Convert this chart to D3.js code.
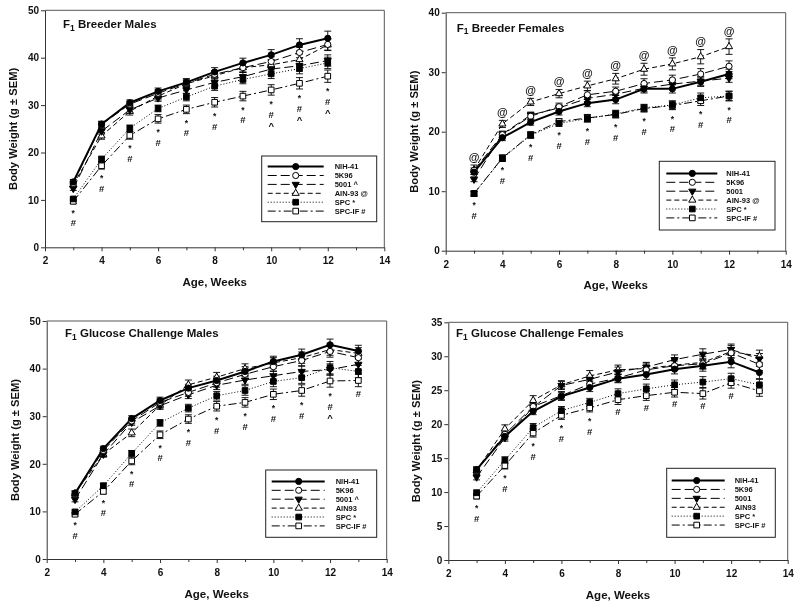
<!DOCTYPE html>
<html><head><meta charset="utf-8">
<script src="https://cdn.jsdelivr.net/npm/d3@7"></script>
<style>
body{margin:0;background:#fff}
svg{display:block;font-family:"Liberation Sans",Arial,Helvetica,sans-serif;filter:grayscale(1)}
</style>
</head><body><svg id="c" width="800" height="608"></svg>
<script>
// ---------------- DATA ----------------
const weeksBreeder = [3,4,5,6,7,8,9,10,11,12];
const weeksGlucose = [3,4,5,6,7,8,9,10,11,12,13];
const xTicks = [2,4,6,8,10,12,14];
const xMinorTicks = [3,5,7,9,11,13];

const panelTitles = ["Breeder Males","Breeder Females","Glucose Challenge Males","Glucose Challenge Females"];
const yMaxes = [50,40,50,35];
const ySteps = [10,10,10,5];

const legendBM = ["NIH-41","5K96","5001 ^","AIN-93 @","SPC *","SPC-IF #"];
const legendBF = ["NIH-41","5K96","5001","AIN-93 @","SPC *","SPC-IF #"];
const legendGM = ["NIH-41","5K96","5001 ^","AIN93","SPC *","SPC-IF #"];
const legendGF = ["NIH-41","5K96","5001","AIN93","SPC *","SPC-IF #"];

// F1 Breeder Males
const bmNIH   = [13.8,26.0,30.5,32.9,34.8,37.0,38.9,40.6,42.7,44.1];
const bm5K96  = [13.5,25.9,30.2,32.5,34.6,36.5,37.9,39.2,41.1,42.8];
const bm5001  = [12.4,24.5,29.0,31.5,33.2,34.8,36.0,37.6,38.3,39.4];
const bmAIN   = [13.2,23.5,28.7,31.9,34.5,36.2,37.9,38.5,39.6,42.7];
const bmSPC   = [10.2,18.6,25.1,29.3,31.7,34.0,35.4,36.6,37.7,38.9];
const bmSPCIF = [9.7,17.2,23.6,27.1,29.1,30.6,31.9,33.2,34.6,36.1];
const bmNIHsem   = [0.5,0.6,0.6,0.7,0.8,0.9,1.0,1.1,1.3,1.5];
const bm5K96sem  = [0.4,0.6,0.6,0.7,0.7,0.8,0.9,1.0,1.1,1.2];
const bm5001sem  = [0.4,0.6,0.7,0.7,0.8,0.9,0.9,1.0,1.1,1.2];
const bmAINsem   = [0.5,0.7,0.8,0.8,0.8,0.9,1.0,1.1,1.2,1.2];
const bmSPCsem   = [0.4,0.6,0.7,0.7,0.8,0.9,0.9,1.0,1.1,1.2];
const bmSPCIFsem = [0.5,0.7,0.8,0.9,0.9,1.0,1.0,1.1,1.2,1.3];
const bmBelow = ["*#","*#","*#","*#","*#","*#","*#","*#^","*#^","*#^"];
const bmAbove = ["","","","","","","","","",""];

// F1 Breeder Females
const bfNIH   = [13.2,19.0,21.6,23.4,24.8,25.4,27.2,27.2,28.4,29.7];
const bf5K96  = [13.5,19.5,22.6,24.2,26.2,26.8,28.1,28.7,29.7,31.0];
const bf5001  = [12.0,19.6,22.8,24.0,25.6,26.3,27.3,28.0,28.5,29.0];
const bfAIN   = [13.6,21.3,25.0,26.4,27.7,28.9,30.5,31.4,32.6,34.3];
const bfSPC   = [9.6,15.5,19.4,21.4,22.2,23.0,24.0,24.5,25.7,26.0];
const bfSPCIF = [9.6,15.6,19.5,21.7,22.3,22.9,23.9,24.4,25.2,26.0];
const bfNIHsem   = [0.4,0.5,0.5,0.6,0.6,0.7,0.7,0.7,0.8,0.8];
const bf5K96sem  = [0.4,0.5,0.6,0.6,0.7,0.7,0.8,0.8,0.9,0.9];
const bf5001sem  = [0.4,0.5,0.5,0.5,0.6,0.6,0.6,0.7,0.7,0.7];
const bfAINsem   = [0.8,0.6,0.6,0.7,0.8,0.9,1.0,1.0,1.2,1.3];
const bfSPCsem   = [0.4,0.5,0.5,0.5,0.6,0.6,0.6,0.7,0.8,0.8];
const bfSPCIFsem = [0.4,0.5,0.5,0.5,0.6,0.6,0.6,0.7,0.8,0.8];
const bfBelow = ["*#","*#","*#","*#","*#","*#","*#","*#","*#","*#"];
const bfAbove = ["@","@","@","@","@","@","@","@","@","@"];

// F1 Glucose Challenge Males
const gmNIH   = [13.8,23.2,29.5,33.3,35.9,37.5,39.4,41.5,42.9,45.0,43.7];
const gm5K96  = [13.6,22.8,29.0,32.9,35.0,37.0,38.8,40.4,41.7,43.6,42.3];
const gm5001  = [12.5,22.0,28.7,32.2,34.5,36.5,37.6,38.5,39.4,39.8,40.9];
const gmAIN   = [13.8,22.0,26.5,32.3,36.6,38.2,40.0,41.2,42.3,44.0,43.2];
const gmSPC   = [9.9,15.4,22.2,28.6,31.7,34.3,35.4,37.3,38.1,40.2,39.4];
const gmSPCIF = [9.4,14.2,20.6,26.1,29.4,32.1,32.9,34.6,35.4,37.4,37.5];
const gmNIHsem   = [0.5,0.5,0.6,0.7,0.8,0.9,1.0,1.1,1.2,1.2,1.2];
const gm5K96sem  = [0.5,0.5,0.6,0.7,0.8,0.9,0.9,1.0,1.1,1.2,1.2];
const gm5001sem  = [0.5,0.5,0.6,0.7,0.8,0.9,0.9,1.0,1.1,1.2,1.3];
const gmAINsem   = [0.5,0.6,0.8,0.8,1.0,1.0,1.0,1.1,1.2,1.2,1.2];
const gmSPCsem   = [0.4,0.5,0.6,0.7,0.8,0.9,1.0,1.1,1.2,1.3,1.3];
const gmSPCIFsem = [0.4,0.5,0.8,0.8,0.9,1.0,1.0,1.1,1.2,1.3,1.3];
const gmBelow = ["*#","*#","*#","*#","*#","*#","*#","*#","*#","*#^","#"];
const gmAbove = ["","","","","","","","","","",""];

// F1 Glucose Challenge Females
const gfNIH   = [13.3,18.2,21.9,24.1,25.4,26.7,27.3,28.1,28.6,29.2,27.6];
const gf5K96  = [13.2,18.5,22.6,24.2,25.9,26.8,28.0,28.6,28.9,30.5,28.8];
const gf5001  = [12.2,18.0,22.5,25.7,26.6,27.7,28.4,29.5,30.3,31.0,29.6];
const gfAIN   = [13.2,19.3,23.5,25.8,27.1,28.0,28.2,28.7,29.1,30.7,30.0];
const gfSPC   = [9.9,14.7,19.5,22.0,23.2,24.5,25.2,25.8,26.2,26.7,25.8];
const gfSPCIF = [9.4,13.9,18.7,21.3,22.4,23.6,24.2,24.7,24.5,26.1,24.9];
const gfNIHsem   = [0.4,0.5,0.5,0.6,0.6,0.6,0.7,0.7,0.8,0.9,0.9];
const gf5K96sem  = [0.4,0.5,0.5,0.6,0.6,0.6,0.7,0.7,0.8,0.8,0.9];
const gf5001sem  = [0.4,0.5,0.5,0.6,0.6,0.7,0.7,0.7,0.8,0.8,0.8];
const gfAINsem   = [0.5,0.6,0.7,0.6,0.8,0.7,0.8,0.8,0.9,0.9,0.9];
const gfSPCsem   = [0.4,0.5,0.6,0.6,0.6,0.7,0.7,0.7,0.8,0.8,0.8];
const gfSPCIFsem = [0.4,0.5,0.6,0.6,0.6,0.7,0.7,0.7,0.8,0.8,0.8];
const gfBelow = ["*#","*#","*#","*#","*#","#","#","#","#","#",""];
const gfAbove = ["","","","","","","","","","",""];

// ---------------- ASSEMBLY ----------------
const panels = [
  {title:panelTitles[0], ymax:yMaxes[0], ystep:ySteps[0], weeks:weeksBreeder, legend:legendBM,
   vals:[bmNIH,bm5K96,bm5001,bmAIN,bmSPC,bmSPCIF], sems:[bmNIHsem,bm5K96sem,bm5001sem,bmAINsem,bmSPCsem,bmSPCIFsem],
   below:bmBelow, above:bmAbove},
  {title:panelTitles[1], ymax:yMaxes[1], ystep:ySteps[1], weeks:weeksBreeder, legend:legendBF,
   vals:[bfNIH,bf5K96,bf5001,bfAIN,bfSPC,bfSPCIF], sems:[bfNIHsem,bf5K96sem,bf5001sem,bfAINsem,bfSPCsem,bfSPCIFsem],
   below:bfBelow, above:bfAbove},
  {title:panelTitles[2], ymax:yMaxes[2], ystep:ySteps[2], weeks:weeksGlucose, legend:legendGM,
   vals:[gmNIH,gm5K96,gm5001,gmAIN,gmSPC,gmSPCIF], sems:[gmNIHsem,gm5K96sem,gm5001sem,gmAINsem,gmSPCsem,gmSPCIFsem],
   below:gmBelow, above:gmAbove},
  {title:panelTitles[3], ymax:yMaxes[3], ystep:ySteps[3], weeks:weeksGlucose, legend:legendGF,
   vals:[gfNIH,gf5K96,gf5001,gfAIN,gfSPC,gfSPCIF], sems:[gfNIHsem,gf5K96sem,gf5001sem,gfAINsem,gfSPCsem,gfSPCIFsem],
   below:gfBelow, above:gfAbove}
];

// layout (pixels)
const layouts = [
  {x0:45,   x1:384.3, y0:10.3,  y1:247.3, tx:63,    ty:28.3,  lg:[261.7,156,376.7,221.7], lo:[6,62,34,73]},
  {x0:445.7,x1:785.7, y0:12.7,  y1:250.7, tx:456.7, ty:31.7,  lg:[659.3,161.3,775,230],   lo:[7,58,33,67]},
  {x0:46.7, x1:386.7, y0:321,   y1:559,   tx:65,    ty:337.3, lg:[265.7,470,376.7,537.3], lo:[6,59,33,70]},
  {x0:448.3,x1:787.7, y0:322.3, y1:560,   tx:456,   ty:337.3, lg:[666.7,468.3,775.3,537.3], lo:[5,58,30,68]}
];

// series styles
const styles = [
  {dash:null,      width:2.0, sym:d3.symbolCircle,   size:30, fill:"#000", rot:0},
  {dash:"9,4",     width:1.0, sym:d3.symbolCircle,   size:30, fill:"#fff", rot:0},
  {dash:"9,4",     width:1.0, sym:d3.symbolTriangle, size:22, fill:"#000", rot:180},
  {dash:"5,3",     width:1.0, sym:d3.symbolTriangle, size:22, fill:"#fff", rot:0},
  {dash:"1,2",     width:1.0, sym:d3.symbolSquare,   size:32, fill:"#000", rot:0},
  {dash:"8,3,2,3", width:1.0, sym:d3.symbolSquare,   size:32, fill:"#fff", rot:0}
];
// annotation glyph metrics: font size, glyph-centre height above baseline (em)
const glyphSize  = {"*":8.5, "#":9.5, "^":9.5, "@":11};
const glyphMid   = {"*":0.58, "#":0.36, "^":0.5, "@":0.3};
const ASC = 0.905, DESC = 0.212;

const svg = d3.select("#c");
const FONT_BOLD = "bold";

function drawMarker(g, st, cx, cy) {
  g.append("path")
    .attr("d", d3.symbol().type(st.sym).size(st.size)())
    .attr("transform", `translate(${cx},${cy}) rotate(${st.rot})`)
    .attr("fill", st.fill).attr("stroke", "#000").attr("stroke-width", 1);
}

function drawStack(g, cx, anchorCenter, chars, dir) {
  // dir = +1: stack downward, -1: stack upward
  let prevBase = null, prevCh = null;
  chars.split("").forEach((ch,k)=>{
    const fs = glyphSize[ch];
    let base;
    if (k === 0) base = anchorCenter + glyphMid[ch]*fs;
    else if (dir > 0) base = prevBase + DESC*glyphSize[prevCh] + ASC*fs + 0.3;
    else base = prevBase - ASC*glyphSize[prevCh] - DESC*fs - 0.3;
    g.append("text").attr("x",cx).attr("y",base).attr("text-anchor","middle")
      .attr("font-size",fs).attr("font-weight",FONT_BOLD).attr("fill","#111").text(ch);
    prevBase = base; prevCh = ch;
  });
}

function drawPanel(p, L) {
  const x = d3.scaleLinear().domain([2,14]).range([L.x0, L.x1]);
  const y = d3.scaleLinear().domain([0,p.ymax]).range([L.y1, L.y0]);
  const g = svg.append("g");

  // frame (top & right)
  g.append("path").attr("d", `M${L.x0},${L.y0}H${L.x1}V${L.y1}`)
    .attr("fill","none").attr("stroke","#555").attr("stroke-width",1);

  // y axis
  g.append("g").attr("transform",`translate(${L.x0},0)`)
    .call(d3.axisLeft(y).tickValues(d3.range(0, p.ymax + 0.001, p.ystep))
      .tickSize(4).tickSizeOuter(0).tickPadding(2).tickFormat(d3.format("d")));
  // x axis
  g.append("g").attr("transform",`translate(0,${L.y1})`)
    .call(d3.axisBottom(x).tickValues(xTicks).tickSize(4).tickSizeOuter(0).tickPadding(6).tickFormat(d3.format("d")));
  g.append("g").attr("transform",`translate(0,${L.y1})`)
    .call(d3.axisBottom(x).tickValues(xMinorTicks).tickSize(3).tickSizeOuter(0).tickFormat(""))
    .select(".domain").remove();
  g.selectAll(".domain").attr("stroke","#333");
  g.selectAll(".tick line").attr("stroke","#333");
  g.selectAll(".tick text").attr("font-size",10).attr("font-weight",FONT_BOLD).attr("fill","#111")
    .attr("font-family","'Liberation Sans',Arial,sans-serif");

  // axis titles
  g.append("text").attr("x",(L.x0+L.x1)/2).attr("y",L.y1+38.5).attr("text-anchor","middle")
    .attr("font-size",11.5).attr("font-weight",FONT_BOLD).attr("fill","#111").text("Age, Weeks");
  g.append("text").attr("transform",`translate(${L.x0-28},${(L.y0+L.y1)/2}) rotate(-90)`)
    .attr("text-anchor","middle").attr("font-size",11.2).attr("font-weight",FONT_BOLD).attr("fill","#111")
    .text("Body Weight (g \u00B1 SEM)");

  // panel title with subscript
  const t = g.append("text").attr("x",L.tx).attr("y",L.ty).attr("font-size",11.5)
    .attr("font-weight",FONT_BOLD).attr("fill","#111");
  t.append("tspan").text("F");
  t.append("tspan").attr("font-size",8.5).attr("dy",2.5).text("1");
  t.append("tspan").attr("dy",-2.5).text(" " + p.title);

  const n = p.weeks.length;
  const line = d3.line().x((d,i)=>x(p.weeks[i])).y(d=>y(d));

  // lines (draw from last series to first so NIH-41 is on top)
  for (let s = 5; s >= 0; s--) {
    const st = styles[s];
    g.append("path").attr("d", line(p.vals[s])).attr("fill","none")
      .attr("stroke","#000").attr("stroke-width",st.width)
      .attr("stroke-dasharray", st.dash);
  }
  // error bars
  for (let s = 5; s >= 0; s--) {
    p.vals[s].forEach((v,i)=>{
      const cx = x(p.weeks[i]), lo = y(v - p.sems[s][i]), hi = y(v + p.sems[s][i]);
      g.append("path").attr("d",`M${cx},${lo}V${hi}M${cx-3.5},${lo}H${cx+3.5}M${cx-3.5},${hi}H${cx+3.5}`)
        .attr("stroke","#000").attr("stroke-width",0.9).attr("fill","none");
    });
  }
  // markers
  for (let s = 5; s >= 0; s--) {
    p.vals[s].forEach((v,i)=> drawMarker(g, styles[s], x(p.weeks[i]), y(v)));
  }

  // significance annotations
  for (let i = 0; i < n; i++) {
    const cx = x(p.weeks[i]);
    const bottom = d3.max(p.vals.map((vs,s)=> y(vs[i] - p.sems[s][i])));
    const top = d3.min(p.vals.map((vs,s)=> y(vs[i] + p.sems[s][i])));
    if (p.below[i].length) drawStack(g, cx, bottom + 7, p.below[i], 1);
    if (p.above[i].length) drawStack(g, cx, top - 7.5, p.above[i], -1);
  }

  // legend
  const [bx0,by0,bx1,by1] = L.lg;
  g.append("rect").attr("x",bx0).attr("y",by0).attr("width",bx1-bx0).attr("height",by1-by0)
    .attr("fill","#fff").attr("stroke","#222").attr("stroke-width",1);
  const step = 8.9;
  const first = (by0+by1)/2 - step*2.5;
  p.legend.forEach((lab,s)=>{
    const st = styles[s];
    const ry = first + step*s;
    g.append("line").attr("x1",bx0+L.lo[0]).attr("x2",bx0+L.lo[1]).attr("y1",ry).attr("y2",ry)
      .attr("stroke","#000").attr("stroke-width",st.width).attr("stroke-dasharray",st.dash);
    drawMarker(g, st, bx0+L.lo[2], ry);
    g.append("text").attr("x",bx0+L.lo[3]).attr("y",ry+2.7).attr("font-size",7.5)
      .attr("font-weight",FONT_BOLD).attr("fill","#111").text(lab);
  });
}

panels.forEach((p,i)=>drawPanel(p, layouts[i]));
</script>
</body></html>
